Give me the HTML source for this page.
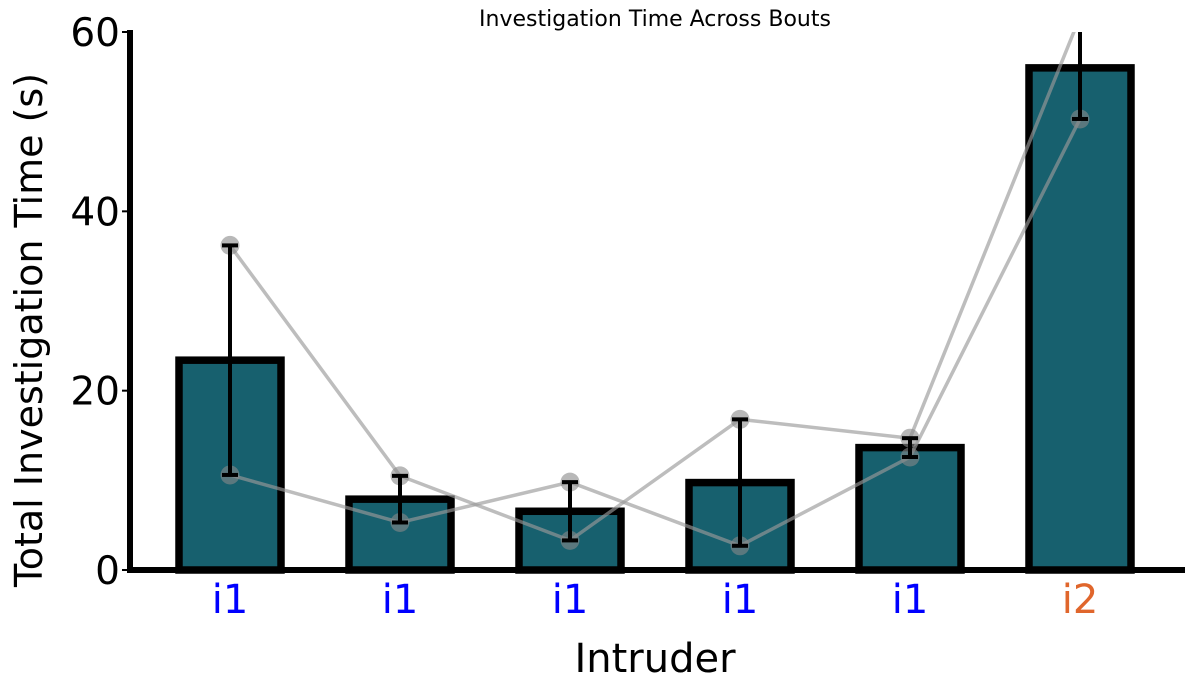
<!DOCTYPE html>
<html><head><meta charset="utf-8"><style>
body{margin:0;background:#fff;}
svg{display:block;font-family:"DejaVu Sans","Liberation Sans",sans-serif;}
</style></head><body>
<svg id="chart" width="1189" height="690">
<defs><clipPath id="plotclip"><rect x="130" y="32" width="1059" height="560"/></clipPath></defs>
<text x="655" y="26" text-anchor="middle" font-size="22">Investigation Time Across Bouts</text>
<text transform="translate(42,330) rotate(-90)" text-anchor="middle" font-size="38">Total Investigation Time (s)</text>
<text x="655" y="672" text-anchor="middle" font-size="40">Intruder</text>
<g id="bars"></g><g id="lines" clip-path="url(#plotclip)"></g><g id="errs" clip-path="url(#plotclip)"></g><g id="axes"></g>
</svg>
<script>
const categories = ["i1","i1","i1","i1","i1","i2"];
const labelColors = ["#0000ff","#0000ff","#0000ff","#0000ff","#0000ff","#e0662c"];
const subject1 = [36.2, 10.5, 3.3, 16.8, 14.7, 61.7];
const subject2 = [10.6, 5.3, 9.8, 2.7, 12.6, 50.3];
const yTicks = [0, 20, 40, 60];
const NS = "http://www.w3.org/2000/svg";
const x0 = 230, dx = 170, barW = 102;
const xPos = i => x0 + i * dx;
const yPos = v => 570 - v * (538 / 60);
function mk(tag, attrs, parent) {
  const e = document.createElementNS(NS, tag);
  for (const k in attrs) e.setAttribute(k, attrs[k]);
  parent.appendChild(e); return e;
}
const gb = document.getElementById("bars"), gl = document.getElementById("lines"),
      ge = document.getElementById("errs"), ga = document.getElementById("axes");
const means = subject1.map((a, i) => (a + subject2[i]) / 2);
means.forEach((m, i) => {
  const r = mk("rect", {x: xPos(i) - barW / 2, y: yPos(m), width: barW, height: 570 - yPos(m), fill: "#17606e", stroke: "#000", "stroke-width": 7.5}, gb);
  
  
});
[subject1, subject2].forEach((s, k) => {
  const pl = mk("polyline", {points: s.map((v, i) => xPos(i) + "," + yPos(v)).join(" "), fill: "none", stroke: "#999", "stroke-opacity": 0.65, "stroke-width": 3.5}, gl);
  
  
  s.forEach((v, i) => {
    const c = mk("circle", {cx: xPos(i), cy: yPos(v), r: 9.5, fill: "#888", "fill-opacity": 0.6}, gl);
    
    
  });
});
means.forEach((m, i) => {
  const h = Math.abs(subject1[i] - subject2[i]) / 2;
  const g = mk("g", {stroke: "#000", "stroke-width": 4}, ge);
  
  
  mk("line", {x1: xPos(i), x2: xPos(i), y1: yPos(m - h), y2: yPos(m + h)}, g);
  mk("line", {x1: xPos(i) - 8, x2: xPos(i) + 8, y1: yPos(m - h), y2: yPos(m - h)}, g);
  mk("line", {x1: xPos(i) - 8, x2: xPos(i) + 8, y1: yPos(m + h), y2: yPos(m + h)}, g);
});
const ya = mk("line", {x1: 130, x2: 130, y1: 30, y2: 573, stroke: "#000", "stroke-width": 6}, ga);


const xa = mk("line", {x1: 127, x2: 1185, y1: 570, y2: 570, stroke: "#000", "stroke-width": 6}, ga);


yTicks.forEach(t => {
  mk("line", {x1: 122, x2: 130, y1: yPos(t), y2: yPos(t), stroke: "#000", "stroke-width": 2}, ga);
  const tx = mk("text", {x: 120, y: yPos(t) + 14, "text-anchor": "end", "font-size": 39}, ga);
  tx.textContent = t;
  
  
});
categories.forEach((c, i) => {
  const tx = mk("text", {x: xPos(i), y: 613, "text-anchor": "middle", "font-size": 40, fill: labelColors[i]}, ga);
  tx.textContent = c;
  
  
});
</script>
</body></html>
